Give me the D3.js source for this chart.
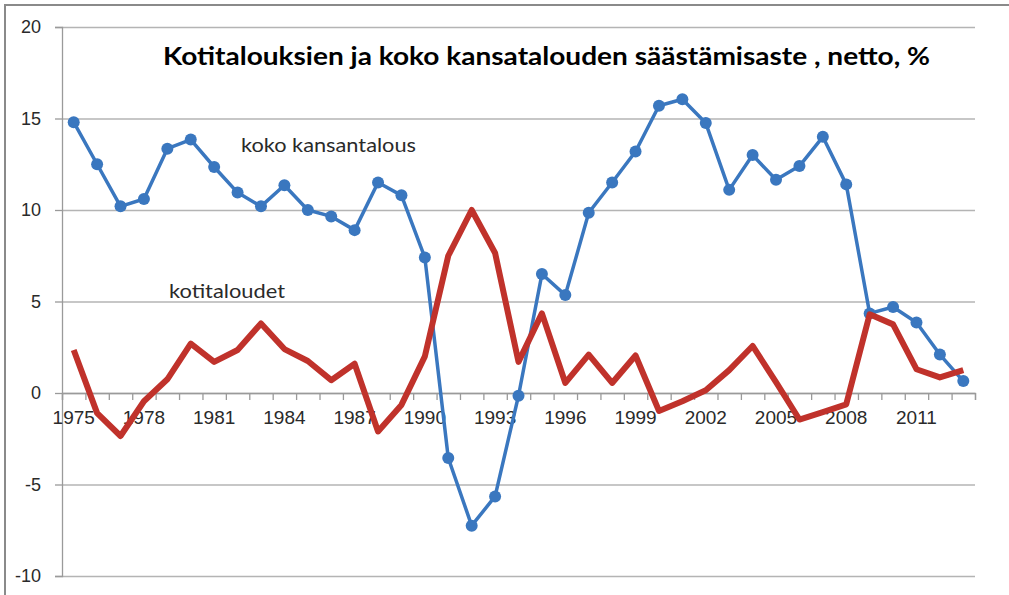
<!DOCTYPE html>
<html>
<head>
<meta charset="utf-8">
<script src="https://cdn.jsdelivr.net/npm/d3@7"></script>
<style>
  body { margin: 0; background: #fff; }
  svg { display: block; font-family: Lato, "Open Sans", sans-serif; }
</style>
</head>
<body>
<div id="chart"></div>
<script>
const width = 1009;
const height = 595;

// vuodet 1975-2013
const years = d3.range(1975, 2014);

// koko kansantalous
const kokoKansantalous = [
  14.8, 12.5, 10.2, 10.6, 13.35, 13.85, 12.35, 10.95, 10.2, 11.35,
  10.0, 9.65, 8.9, 11.5, 10.8, 7.4, -3.55, -7.25, -5.65, -0.15,
  6.5, 5.35, 9.85, 11.5, 13.2, 15.7, 16.05, 14.75, 11.1, 13.0,
  11.65, 12.4, 14.0, 11.4, 4.35, 4.7, 3.85, 2.1, 0.65
];

// kotitaloudet
const kotitaloudet = [
  2.35, -1.1, -2.35, -0.45, 0.75, 2.7, 1.7, 2.35, 3.8, 2.4,
  1.75, 0.7, 1.6, -2.1, -0.65, 2.0, 7.5, 10.0, 7.65, 1.7,
  4.35, 0.55, 2.1, 0.55, 2.05, -0.98, -0.45, 0.15, 1.25, 2.57,
  0.6, -1.45, -1.05, -0.62, 4.3, 3.75, 1.3, 0.85, 1.25
];

const yTicks = [-10, -5, 0, 5, 10, 15, 20];
const xLabelYears = years.filter(d => (d - 1975) % 3 === 0);

const plot = {left: 62, right: 975, top: 27, bottom: 576};

const svg = d3.select("#chart")
  .append("svg")
  .attr("width", width)
  .attr("height", height);

// kehys
svg.append("rect")
  .attr("x", 5).attr("y", 5)
  .attr("width", 1200).attr("height", 800)
  .attr("fill", "none")
  .attr("stroke", "#8a8a8a")
  .attr("stroke-width", 2);

const x = d3.scaleBand()
  .domain(years)
  .range([plot.left, plot.right])
  .padding(0);

const xEdge = d3.scaleLinear()
  .domain([0, years.length])
  .range([plot.left, plot.right]);

const y = d3.scaleLinear()
  .domain([-10, 20])
  .range([plot.bottom, plot.top]);

// vaakaviivat
const grid = svg.append("g")
  .attr("transform", `translate(${plot.left},0)`)
  .call(d3.axisLeft(y).tickValues(yTicks).tickSize(-(plot.right - plot.left)).tickFormat(""));
grid.select(".domain").remove();
grid.selectAll("line").attr("stroke", "#b4b4b4").attr("stroke-width", 1.3);

// y-akseli
const yAxis = svg.append("g")
  .attr("transform", `translate(${plot.left},0)`)
  .call(d3.axisLeft(y).tickValues(yTicks).tickSize(7).tickPadding(14).tickFormat(d => String(d)));
yAxis.select(".domain").attr("stroke", "#9a9a9a").attr("stroke-width", 1.3);
yAxis.selectAll("line").attr("stroke", "#9a9a9a").attr("stroke-width", 1.3);
yAxis.selectAll("text")
  .attr("fill", "#2a2a2a")
  .style("font-size", "18px");

// x-akseli nollan kohdalla
const xTicks = svg.append("g")
  .attr("transform", `translate(0,${y(0)})`)
  .call(d3.axisBottom(xEdge).tickValues(d3.range(0, years.length + 1)).tickSize(7).tickFormat(""));
xTicks.select(".domain").attr("stroke", "#9a9a9a").attr("stroke-width", 1.3);
xTicks.selectAll("line").attr("stroke", "#9a9a9a").attr("stroke-width", 1.3);

const xAxis = svg.append("g")
  .attr("transform", `translate(0,${y(0)})`)
  .call(d3.axisBottom(x).tickValues(xLabelYears).tickSize(0).tickPadding(18));
xAxis.select(".domain").remove();
xAxis.selectAll("text")
  .attr("fill", "#2a2a2a")
  .style("font-size", "19px");

const cx = d => x(d) + x.bandwidth() / 2;

// koko kansantalous
const blue = "#3a77bf";
const blueLine = d3.line()
  .x((d, i) => cx(years[i]))
  .y(d => y(d));
svg.append("path")
  .datum(kokoKansantalous)
  .attr("d", blueLine)
  .attr("fill", "none")
  .attr("stroke", blue)
  .attr("stroke-width", 3.5)
  .attr("stroke-linejoin", "round");
svg.append("g")
  .selectAll("circle")
  .data(kokoKansantalous)
  .join("circle")
  .attr("cx", (d, i) => cx(years[i]))
  .attr("cy", d => y(d))
  .attr("r", 6)
  .attr("fill", blue);

// kotitaloudet
svg.append("path")
  .datum(kotitaloudet)
  .attr("d", d3.line().x((d, i) => cx(years[i])).y(d => y(d)))
  .attr("fill", "none")
  .attr("stroke", "#c0322b")
  .attr("stroke-width", 6)
  .attr("stroke-linejoin", "round");

// otsikko ja selitteet
svg.append("text")
  .attr("x", 163).attr("y", 65)
  .attr("textLength", 767)
  .attr("lengthAdjust", "spacingAndGlyphs")
  .style("font-size", "24px")
  .style("font-weight", "bold")
  .attr("fill", "#000")
  .text("Kotitalouksien ja koko kansatalouden säästämisaste , netto, %");

svg.append("text")
  .attr("x", 241).attr("y", 152)
  .attr("textLength", 175)
  .attr("lengthAdjust", "spacingAndGlyphs")
  .style("font-size", "19px")
  .attr("fill", "#2a2a2a")
  .text("koko kansantalous");

svg.append("text")
  .attr("x", 169).attr("y", 298)
  .attr("textLength", 116)
  .attr("lengthAdjust", "spacingAndGlyphs")
  .style("font-size", "19px")
  .attr("fill", "#2a2a2a")
  .text("kotitaloudet");
</script>
</body>
</html>
